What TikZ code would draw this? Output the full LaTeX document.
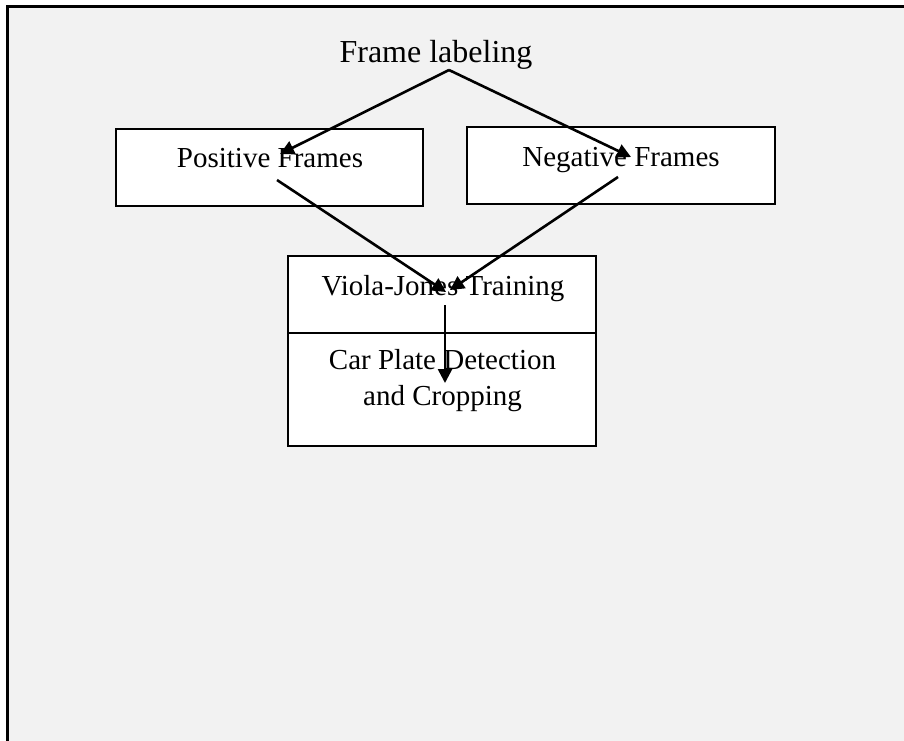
\documentclass[tikz,border=0pt]{standalone}
\usepackage{fontspec}
\setmainfont{Liberation Serif}
\usetikzlibrary{arrows.meta}
\definecolor{bggray}{HTML}{F2F2F2}
\begin{document}
\begin{tikzpicture}[x=1pt,y=-1pt,
  box/.style={draw=black, fill=white, line width=2.8pt, inner sep=0pt},
  lbl/.style={anchor=base, inner sep=0pt, font=\fontsize{29}{34}\selectfont},
  conn/.style={line width=2.6pt, -{Triangle[length=14pt,width=14pt]}}]
\useasboundingbox (0,0) rectangle (904,740);
\clip (0,0) rectangle (904,740);
\path[fill=bggray, draw=black, line width=3pt] (7,6) rectangle (930,770);

% title
\node[anchor=base, inner sep=0pt, font=\fontsize{32}{38}\selectfont] (fl) at (436,62) {Frame labeling};

% boxes
\node[box, minimum width=307pt, minimum height=77pt] (pos) at (269.5,167.5) {};
\node[lbl] (postxt) at (270,167) {Positive Frames};
\node[box, minimum width=308pt, minimum height=77pt] (neg) at (621,165.5) {};
\node[lbl] (negtxt) at (621,166) {Negative Frames};
\node[box, minimum width=308pt, minimum height=77pt] (vj) at (442,294.5) {};
\node[box, minimum width=308pt, minimum height=113pt] (cp) at (442,389.5) {};
\node[lbl] (vjtxt) at (443,295) {Viola-Jones Training};
\node[lbl] (cp1) at (442.5,369) {Car Plate Detection};
\node[lbl] (cp2) at (442.5,405) {and Cropping};

% connector end points
\coordinate (flout) at (449,70);
\coordinate (posin) at (280,154);
\coordinate (negin) at (631,157);
\coordinate (posout) at (277,180);
\coordinate (negout) at (618,177);
\coordinate (vjinL) at (446,292);
\coordinate (vjinR) at (450,290);
\coordinate (vjout) at (445,305);
\coordinate (cpin) at (445,383);

\draw[conn] (flout) -- (posin);
\draw[conn] (flout) -- (negin);
\draw[conn] (posout) -- (vjinL);
\draw[conn] (negout) -- (vjinR);
\draw[conn] (vjout) -- (cpin);
\end{tikzpicture}
\end{document}
